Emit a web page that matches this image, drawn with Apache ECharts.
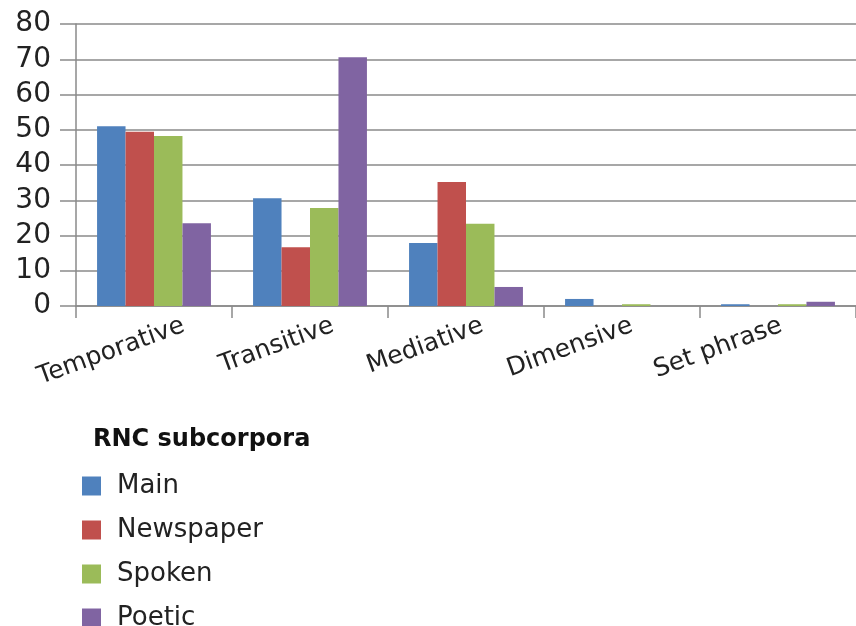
<!DOCTYPE html>
<html><head><meta charset="utf-8">
<script src="https://cdn.jsdelivr.net/npm/echarts@6/dist/echarts.min.js"></script>
<style>html,body{margin:0;padding:0;background:#fff}#c{width:856px;height:626px}</style>
</head><body><div id="c"></div>
<script>
const categories = ["Temporative","Transitive","Mediative","Dimensive","Set phrase"];
const seriesNames = ["Main","Newspaper","Spoken","Poetic"];
const mainVals = [51, 30.6, 17.9, 2, 0.5];
const newspaperVals = [49.4, 16.7, 35.2, 0, 0];
const spokenVals = [48.2, 27.8, 23.3, 0.5, 0.5];
const poeticVals = [23.5, 70.6, 5.4, 0, 1.2];
const colors = ["#4F81BD","#C0504D","#9BBB59","#8064A2"];
const legendTitle = "RNC subcorpora";

const allVals = [mainVals, newspaperVals, spokenVals, poeticVals];
const chart = echarts.init(document.getElementById('c'));
const font = "DejaVu Sans, Verdana, sans-serif";
const axisCol = '#8a8a8a';
chart.setOption({
  animation:false,
  color: colors,
  textStyle:{fontFamily:font},
  title:{text:legendTitle,left:88,top:423,textStyle:{fontFamily:font,fontSize:24,fontWeight:'bold',color:'#111'}},
  legend:{orient:'vertical',left:77,top:468,height:200,itemWidth:19,itemHeight:19,itemGap:18,icon:'rect',
    textStyle:{fontFamily:font,fontSize:26,lineHeight:26,color:'#222',padding:[0,0,0,11]},data:seriesNames},
  grid:[
    {left:76,right:-1,top:24,height:282,containLabel:false},
    {left:109,right:-34,top:24,height:282,containLabel:false}
  ],
  xAxis:[
    {type:'category',data:categories,gridIndex:0,
      axisLine:{lineStyle:{color:axisCol,width:1.5}},
      axisTick:{show:true,length:12,inside:false,lineStyle:{color:axisCol,width:1.5}},
      axisLabel:{show:false}},
    {type:'category',data:categories,gridIndex:1,
      axisLine:{show:false},axisTick:{show:false},
      axisLabel:{rotate:20,fontFamily:font,fontSize:25,color:'#222',margin:19,interval:0}}
  ],
  yAxis:[
    {type:'value',min:0,max:80,interval:10,gridIndex:0,
      axisLine:{show:true,lineStyle:{color:axisCol,width:1.5}},
      axisTick:{show:true,length:16,lineStyle:{color:axisCol,width:1.5}},
      splitLine:{lineStyle:{color:axisCol,width:1.5}},
      axisLabel:{fontFamily:font,fontSize:28,color:'#222',margin:25}},
    {type:'value',min:0,max:80,interval:10,gridIndex:1,show:false}
  ],
  series: seriesNames.map((n,i)=>({name:n,type:'bar',data:allVals[i],barGap:'0%',barCategoryGap:'27%'}))
});
</script></body></html>
